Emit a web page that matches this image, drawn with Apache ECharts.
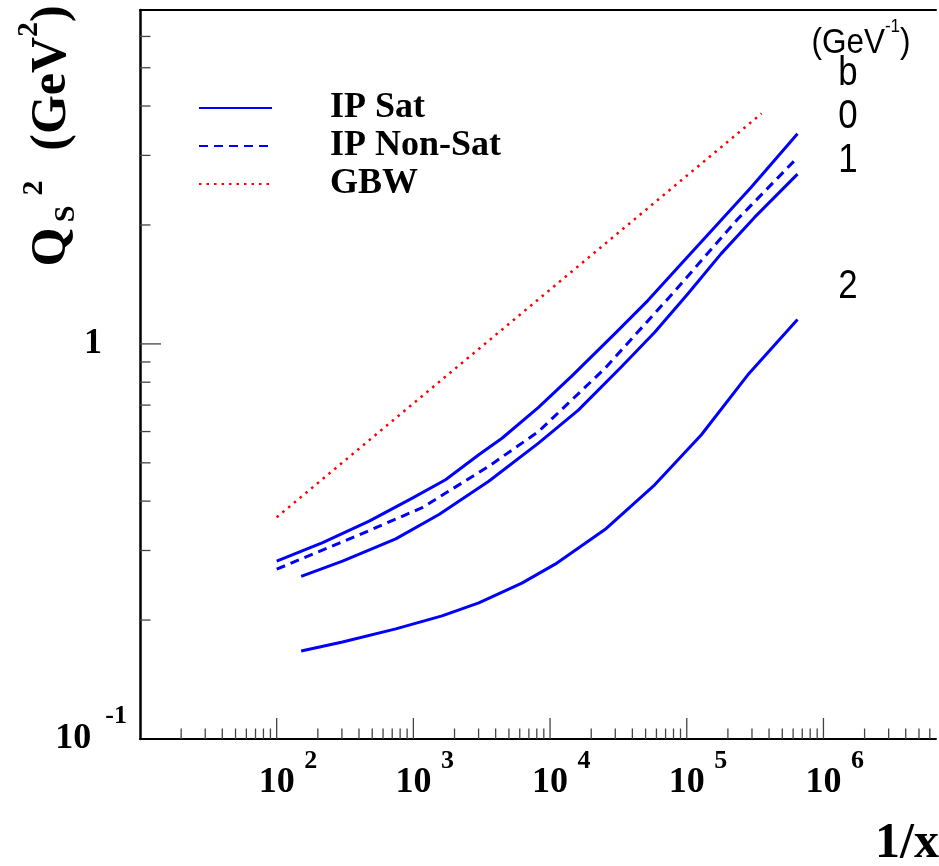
<!DOCTYPE html>
<html><head><meta charset="utf-8">
<script src="https://cdn.jsdelivr.net/npm/echarts@6/dist/echarts.min.js"></script>
<style>html,body{margin:0;padding:0;background:#fff}#c{width:939px;height:866px}</style>
</head><body><div id="c"></div>
<script>
// ---- data: [1/x, Qs^2 (GeV^2)] ----
const ipSatB0 = [[100,0.282],[217,0.314],[475,0.356],[982,0.407],[1720,0.453],[3010,0.524],[4450,0.577],[8230,0.691],[14400,0.829],[29800,1.062],[52100,1.289],[91200,1.595],[160000,1.973],[295000,2.489],[646000,3.405]];
const ipSatB1 = [[151,0.258],[303,0.282],[743,0.321],[1540,0.370],[3560,0.449],[8230,0.561],[16100,0.680],[33300,0.875],[58300,1.070],[102000,1.34],[178000,1.69],[313000,2.09],[646000,2.69]];
const ipSatB2 = [[151,0.167],[303,0.176],[743,0.190],[1620,0.205],[3010,0.221],[6220,0.248],[10900,0.277],[25200,0.339],[58300,0.440],[128000,0.589],[279000,0.834],[646000,1.152]];
const ipNonSat = [[100,0.269],[380,0.326],[1160,0.385],[3560,0.490],[8230,0.600],[25200,0.867],[77100,1.33],[236000,2.07],[646000,2.962]];
const gbw = [[100,0.364],[1000,0.707],[10000,1.372],[100000,2.664],[353000,3.83]];

const legendNames = ['IP Sat','IP Non-Sat','GBW'];
const xLabelExponents = [2,3,4,5,6];
const xDecades = [10,100,1000,10000,100000,1000000];
const yDecades = [0.1,1];
const tickMultipliers = [1,2,3,4,5,6,7,8,9];
const bLabels = [['b',74],['0',117],['1',161],['2',287]];

const X_MIN = 10, X_MAX = 6.66e6, Y_MIN = 0.1, Y_MAX = 7;

const xTicks = [];
xDecades.forEach(d => tickMultipliers.forEach(m => { const v = d*m; if (v > X_MIN*1.0001 && v < X_MAX) xTicks.push([v, Y_MIN, m===1?1:0]); }));
const yTicks = [];
yDecades.forEach(d => tickMultipliers.forEach(m => { const v = d*m; if (v > Y_MIN*1.0001 && v < Y_MAX*0.999) yTicks.push([X_MIN, v, m===1?1:0]); }));

const SERIF = 'Liberation Serif';
const chart = echarts.init(document.getElementById('c'), null, {renderer:'canvas'});

function isPow(v){ const l = Math.log10(v); return Math.abs(l - Math.round(l)) < 1e-6; }

const BLUE = '#0000ff', RED = '#ff0000';
function curve(name, data, color, type, width){
  return {name, type:'line', data, symbol:'none', silent:true, z:3, smooth:false,
    lineStyle:{color, width, type, join:'round'}, itemStyle:{color, opacity:0}};
}

const option = {
  animation: false,
  backgroundColor: '#fff',
  grid: {left:140, top:10, right:0, bottom:127, containLabel:false},
  legend: {
    data: legendNames, orient:'vertical', left:193, top:85, itemWidth:73, itemHeight:14, itemGap:2,
    selectedMode:false, itemStyle:{opacity:0},
    textStyle:{fontFamily:SERIF, fontWeight:'bold', fontSize:36, color:'#000', lineHeight:30, padding:[0,0,0,53]}
  },
  xAxis: [{
    type:'log', logBase:10, min:X_MIN, max:X_MAX,
    axisLine:{show:true, onZero:false, lineStyle:{color:'#000', width:2}},
    axisTick:{show:false}, splitLine:{show:false},
    axisLabel:{
      margin:18.5,
      formatter: v => {
        if (!isPow(v)) return '';
        const e = Math.round(Math.log10(v));
        if (!xLabelExponents.includes(e)) return '';
        return '{p|}{b|10}{s|' + e + '}';
      },
      rich:{
        p:{width:20},
        b:{fontSize:36, fontWeight:'bold', fontFamily:SERIF, color:'#000', lineHeight:50, padding:[0,6,0,6]},
        s:{fontSize:26, fontWeight:'bold', fontFamily:SERIF, color:'#000', lineHeight:7, height:7, verticalAlign:'top', width:20, align:'left'}
      }
    }
  },{
    type:'log', logBase:10, min:X_MIN, max:X_MAX, position:'top',
    axisLine:{show:true, onZero:false, lineStyle:{color:'#000', width:2}},
    axisTick:{show:false}, axisLabel:{show:false}, splitLine:{show:false}
  }],
  yAxis: [{
    type:'log', logBase:10, min:Y_MIN, max:Y_MAX,
    axisLine:{show:true, onZero:false, lineStyle:{color:'#000', width:2.5}},
    axisTick:{show:false}, splitLine:{show:false},
    axisLabel:{
      margin:13,
      formatter: v => {
        if (Math.abs(v-1) < 1e-9) return '{one|1}';
        if (Math.abs(v-0.1) < 1e-9) return '{b|10}{s|-1}';
        return '';
      },
      rich:{
        one:{fontSize:36, fontWeight:'bold', fontFamily:SERIF, color:'#000', padding:[0,25,0,0]},
        b:{fontSize:36, fontWeight:'bold', fontFamily:SERIF, color:'#000', lineHeight:50, padding:[0,14,0,0]},
        s:{fontSize:26, fontWeight:'bold', fontFamily:SERIF, color:'#000', lineHeight:4, height:4, verticalAlign:'top'}
      }
    }
  }],
  series: [
    curve('IP Sat', ipSatB0, BLUE, 'solid', 3),
    curve('IP Sat', ipSatB1, BLUE, 'solid', 3),
    curve('IP Sat', ipSatB2, BLUE, 'solid', 3),
    curve('IP Non-Sat', ipNonSat, BLUE, [9,6], 3),
    curve('GBW', gbw, RED, [2.5,5], 2.5),
    {type:'custom', silent:true, z:4, data:xTicks, encode:{x:0, y:1},
      renderItem:(params, api) => {
        const p = api.coord([api.value(0), Y_MIN]);
        const len = api.value(2) ? 21 : 10.5;
        return {type:'line', shape:{x1:p[0], y1:p[1], x2:p[0], y2:p[1]-len}, style:{stroke:'#444', lineWidth:1.3}};
      }},
    {type:'custom', silent:true, z:4, data:yTicks, encode:{x:0, y:1},
      renderItem:(params, api) => {
        const p = api.coord([X_MIN, api.value(1)]);
        const len = api.value(2) ? 21 : 10.5;
        return {type:'line', shape:{x1:p[0], y1:p[1], x2:p[0]+len, y2:p[1]}, style:{stroke:'#444', lineWidth:1.3}};
      }}
  ],
  graphic: [
    {type:'text', x:939, y:844, silent:true, style:{text:'1/x', fontFamily:SERIF, fontWeight:'bold', fontSize:50, fill:'#000', align:'right', verticalAlign:'middle'}},
    {type:'text', x:52, y:247, rotation:Math.PI/2, silent:true, style:{text:'Q', fontFamily:SERIF, fontWeight:'bold', fontSize:50, fill:'#000', align:'center', verticalAlign:'middle'}},
    {type:'text', x:66, y:214, rotation:Math.PI/2, silent:true, style:{text:'S', fontFamily:SERIF, fontWeight:'bold', fontSize:30, fill:'#000', align:'center', verticalAlign:'middle'}},
    {type:'text', x:34, y:188, rotation:Math.PI/2, silent:true, style:{text:'2', fontFamily:SERIF, fontWeight:'bold', fontSize:30, fill:'#000', align:'center', verticalAlign:'middle'}},
    {type:'text', x:52, y:78, rotation:Math.PI/2, silent:true, style:{text:'{m|(GeV}{p|2}{m|)}', align:'center', verticalAlign:'middle',
      rich:{m:{fontFamily:SERIF, fontWeight:'bold', fontSize:50, fill:'#000', lineHeight:60}, p:{fontFamily:SERIF, fontWeight:'bold', fontSize:30, fill:'#000', lineHeight:14, height:14, verticalAlign:'top'}}}},
    {type:'text', x:861, y:43, scaleX:0.9, silent:true, style:{text:'{m|(GeV}{u|-1}{m|)}', align:'center', verticalAlign:'middle',
      rich:{m:{fontFamily:'Liberation Sans', fontSize:35, fill:'#000', lineHeight:44}, u:{fontFamily:'Liberation Sans', fontSize:19, fill:'#000', lineHeight:12, height:12, verticalAlign:'top'}}}}
  ].concat(bLabels.map(b => ({type:'text', x:848, y:b[1], scaleX:0.85, silent:true,
      style:{text:b[0], fontFamily:'Liberation Sans', fontSize:41, fill:'#000', align:'center', verticalAlign:'middle'}})))
};
chart.setOption(option);
</script>
</body></html>
